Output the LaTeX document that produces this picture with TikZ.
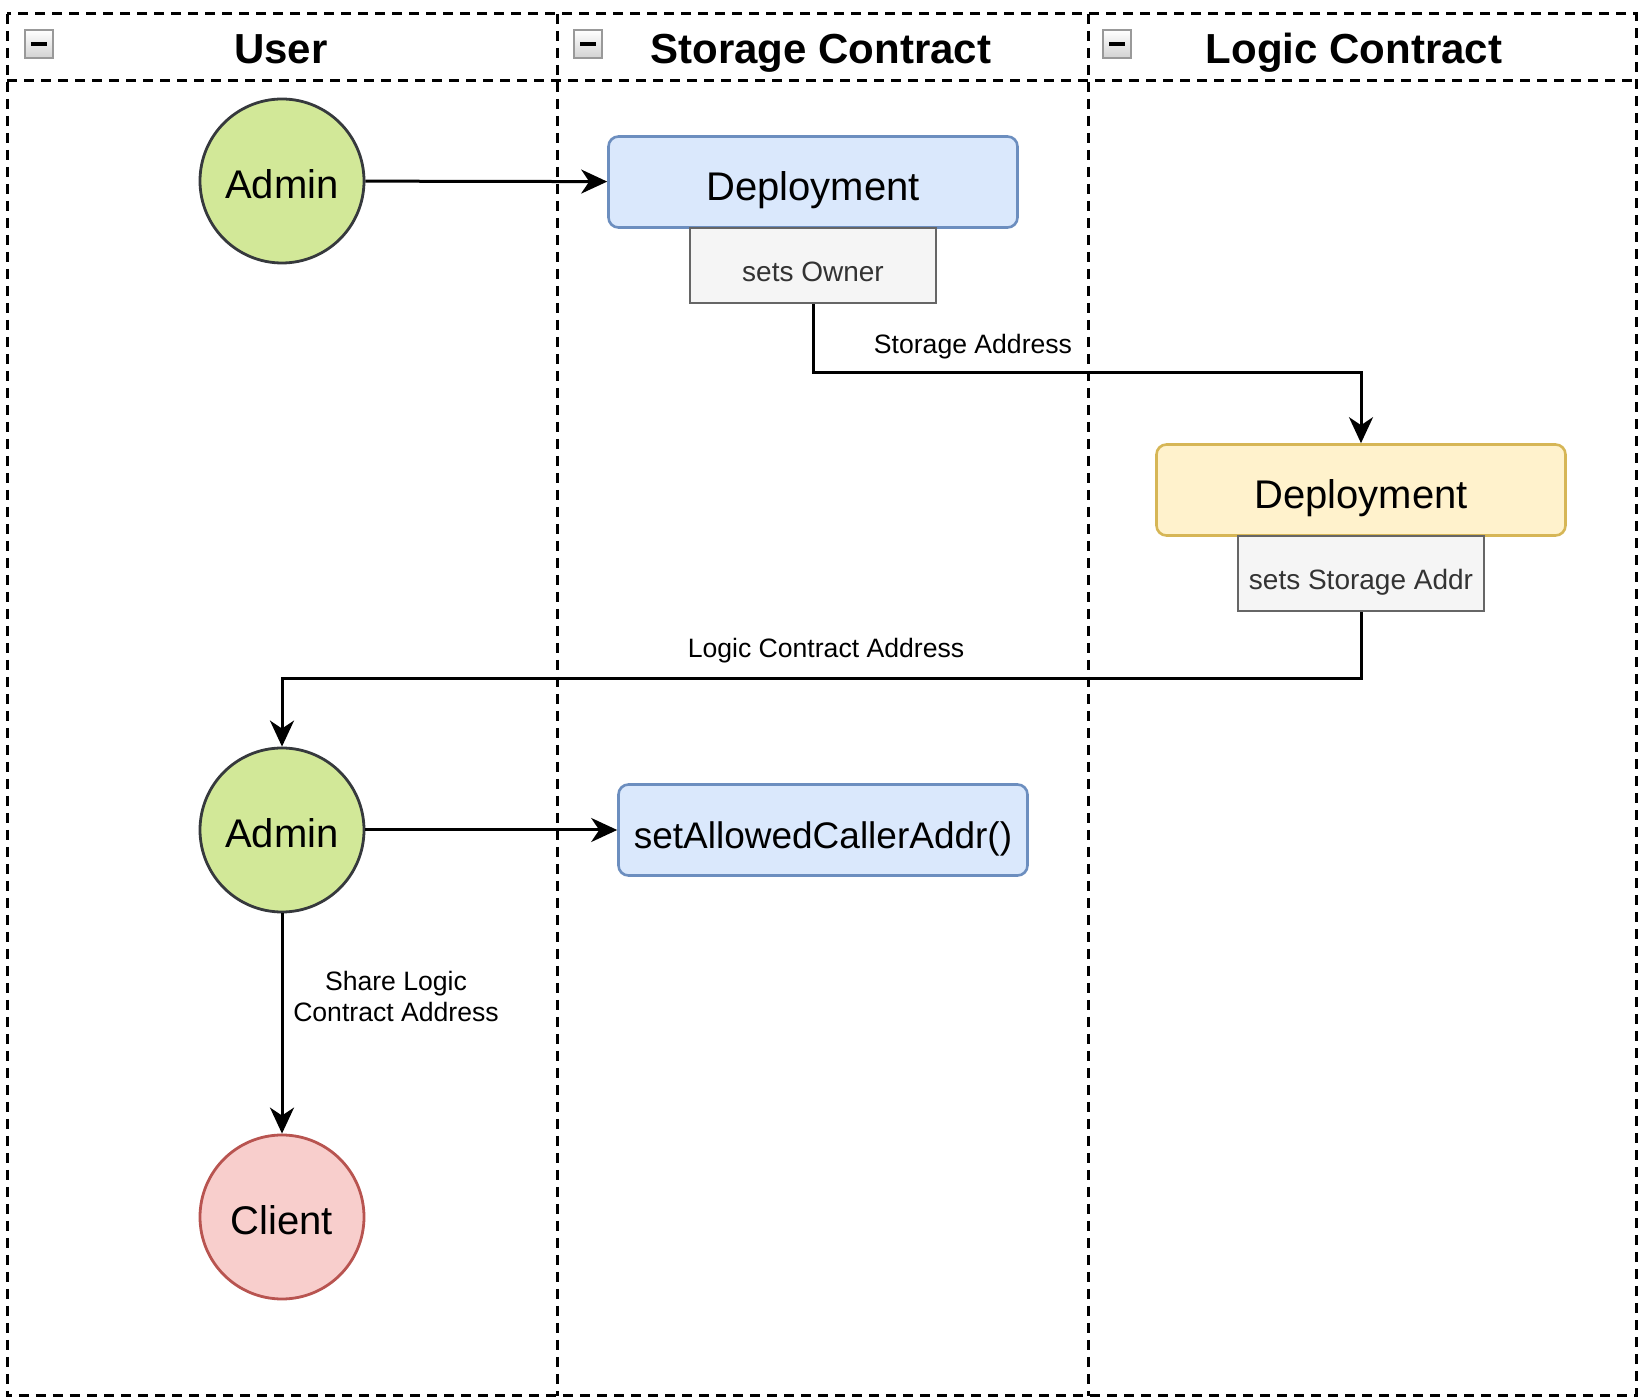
\documentclass[tikz,border=0pt]{standalone}
\usepackage{fontspec}
\setmainfont{Liberation Sans}
\usetikzlibrary{arrows.meta,positioning}

\definecolor{actorfill}{HTML}{D2E898}
\definecolor{actorline}{HTML}{36393D}
\definecolor{clientfill}{HTML}{F8CECC}
\definecolor{clientline}{HTML}{B85450}
\definecolor{bluefill}{HTML}{DAE8FC}
\definecolor{blueline}{HTML}{6C8EBF}
\definecolor{yellowfill}{HTML}{FFF2CC}
\definecolor{yellowline}{HTML}{D6B656}
\definecolor{tagfill}{HTML}{F5F5F5}
\definecolor{tagline}{HTML}{666666}
\definecolor{tagtext}{HTML}{333333}

\tikzset{
    lane/.style={draw, line width=1.5pt, dash pattern=on 5pt off 3.5pt},
    lanetitle/.style={font=\bfseries\fontsize{21}{25}\selectfont, text height=15pt, text depth=0pt},
    minusbox/.style={draw=gray!80, line width=0.6pt, top color=white, bottom color=gray!35,
        minimum size=14pt, inner sep=0pt},
    actor/.style={circle, draw=actorline, fill=actorfill, line width=1.4pt,
        minimum size=82pt, inner sep=0pt, text height=17.5pt, text depth=0pt,
        font=\fontsize{20}{24}\selectfont},
    step box/.style={draw, rounded corners=5pt, line width=1.3pt, minimum width=204.5pt,
        minimum height=45.5pt, text height=19pt, text depth=0pt, font=\fontsize{20}{24}\selectfont},
    tag/.style={draw=tagline, fill=tagfill, line width=1.3pt, text=tagtext, text height=16pt,
        text depth=0pt, minimum width=123pt, minimum height=37.5pt, font=\fontsize{14}{17}\selectfont},
    flow/.style={line width=1.5pt, -{Stealth[length=13pt,width=12pt,inset=4pt]}},
    lbl/.style={font=\fontsize{13.3}{15.5}\selectfont, align=center, inner sep=0pt}
}

\begin{document}
\begin{tikzpicture}[x=0.5pt,y=-0.5pt]
    \useasboundingbox (0,0) rectangle (1646,1400);
    % swimlanes
    \draw[lane] (7,14) rectangle (1636,1396);
    \draw[lane] (7,81) -- (1636,81);
    \draw[lane] (557,14) -- (557,1396);
    \draw[lane] (1088,14) -- (1088,1396);

    \node[minusbox] (foldUser) at (39,44) {\rule{8pt}{2pt}};
    \node[minusbox] (foldStorage) at (588,44) {\rule{8pt}{2pt}};
    \node[minusbox] (foldLogic) at (1117,44) {\rule{8pt}{2pt}};
    \node[lanetitle] (titleUser) at (281,49) {User};
    \node[lanetitle] (titleStorage) at (821,49) {Storage Contract};
    \node[lanetitle] (titleLogic) at (1354,49) {Logic Contract};

    % steps
    \node[actor] (admin) at (282,181) {Admin};
    \node[step box, draw=blueline, fill=bluefill] (deployStorage) at (813,182) {Deployment};
    \node[tag, below=-1pt of deployStorage] (ownerTag) {sets Owner};
    \node[step box, draw=yellowline, fill=yellowfill] (deployLogic) at (1361,490) {Deployment};
    \node[tag, below=-1pt of deployLogic] (storageTag) {sets Storage Addr};
    \node[actor] (adminCall) at (282,830) {Admin};
    \node[step box, draw=blueline, fill=bluefill, font=\fontsize{18.5}{22}\selectfont] (setCaller) at (823,830) {setAllowedCallerAddr()};
    \node[actor, draw=clientline, fill=clientfill] (client) at (282,1217) {Client};

    % connectors
    \draw[flow] (admin) -- (deployStorage);
    \draw[flow] (ownerTag.south) -- (ownerTag.south |- 0,373) -- (deployLogic.north |- 0,373) -- (deployLogic.north);
    \node[lbl] (lblStorage) at (973,347) {Storage Address};
    \draw[flow] (storageTag.south) -- (storageTag.south |- 0,679) -- (adminCall.north |- 0,679) -- (adminCall.north);
    \node[lbl] (lblLogic) at (826,651) {Logic Contract Address};
    \draw[flow] (adminCall) -- (setCaller);
    \draw[flow] (adminCall) -- (client);
    \node[lbl] (lblShare) at (396,996) {Share Logic\\Contract Address};
\end{tikzpicture}
\end{document}
